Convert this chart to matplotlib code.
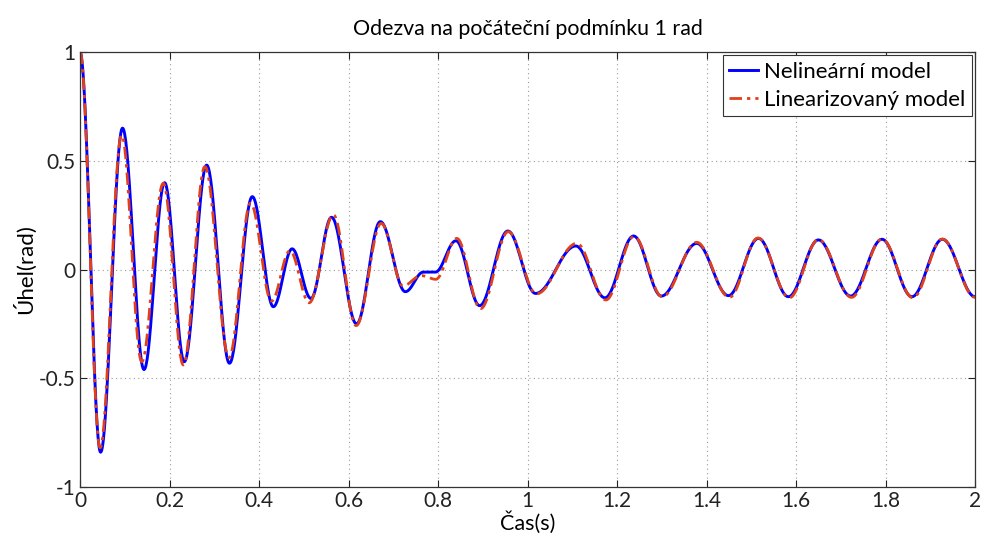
import numpy as np
import matplotlib
matplotlib.use("Agg")
import matplotlib.pyplot as plt

# Turning points of each response (time in s, angle in rad)
nonlinear_t = [0.000, 0.046, 0.095, 0.143, 0.189, 0.233, 0.283, 0.334, 0.385, 0.432,
               0.474, 0.516, 0.562, 0.618, 0.671, 0.727, 0.767, 0.794, 0.840, 0.893,
               0.956, 1.018, 1.108, 1.173, 1.237, 1.299, 1.378, 1.449, 1.516, 1.583,
               1.650, 1.722, 1.792, 1.859, 1.927, 2.000]
nonlinear_y = [1.000, -0.840, 0.650, -0.460, 0.399, -0.424, 0.480, -0.431, 0.335, -0.171,
               0.095, -0.133, 0.240, -0.250, 0.220, -0.102, -0.012, -0.012, 0.132, -0.166,
               0.177, -0.110, 0.108, -0.130, 0.154, -0.122, 0.120, -0.120, 0.143, -0.125,
               0.136, -0.122, 0.139, -0.125, 0.139, -0.125]

linear_t = [0.000, 0.045, 0.093, 0.138, 0.186, 0.231, 0.279, 0.333, 0.381, 0.428,
            0.469, 0.512, 0.566, 0.617, 0.673, 0.722, 0.762, 0.795, 0.842, 0.895,
            0.957, 1.020, 1.110, 1.175, 1.238, 1.301, 1.378, 1.451, 1.515, 1.585,
            1.650, 1.724, 1.792, 1.861, 1.927, 2.000]
linear_y = [1.000, -0.820, 0.618, -0.424, 0.396, -0.439, 0.473, -0.405, 0.305, -0.145,
            0.086, -0.153, 0.252, -0.258, 0.212, -0.075, -0.028, -0.045, 0.143, -0.180,
            0.174, -0.112, 0.120, -0.140, 0.152, -0.125, 0.125, -0.128, 0.145, -0.130,
            0.138, -0.128, 0.140, -0.130, 0.140, -0.128]

x_ticks = [0, 0.2, 0.4, 0.6, 0.8, 1.0, 1.2, 1.4, 1.6, 1.8, 2.0]
x_tick_labels = ["0", "0.2", "0.4", "0.6", "0.8", "1", "1.2", "1.4", "1.6", "1.8", "2"]
y_ticks = [-1, -0.5, 0, 0.5, 1]
y_tick_labels = ["-1", "-0.5", "0", "0.5", "1"]


def smooth_path(t_nodes, y_nodes, n=40):
    """Join turning points with half-cosine arcs (zero slope at each node)."""
    ts, ys = [], []
    for i in range(len(t_nodes) - 1):
        s = np.linspace(0.0, 1.0, n, endpoint=False)
        w = (1.0 - np.cos(np.pi * s)) / 2.0
        ts.append(t_nodes[i] + (t_nodes[i + 1] - t_nodes[i]) * s)
        ys.append(y_nodes[i] + (y_nodes[i + 1] - y_nodes[i]) * w)
    ts.append([t_nodes[-1]])
    ys.append([y_nodes[-1]])
    return np.concatenate(ts), np.concatenate(ys)


plt.rcParams["font.family"] = ["Lato", "DejaVu Sans"]
plt.rcParams["axes.unicode_minus"] = False

fig = plt.figure(figsize=(9.83, 5.35), dpi=100)
ax = fig.add_axes([0.0814, 0.0897, 0.9105, 0.8131])

t_nl, y_nl = smooth_path(nonlinear_t, nonlinear_y)
t_lin, y_lin = smooth_path(linear_t, linear_y)

ax.plot(t_nl, y_nl, color="#0000ff", linewidth=2.1, label="Nelineární model")
ax.plot(t_lin, y_lin, color="#e0401a", linewidth=2.0,
        dashes=(4.5, 1.8, 1.2, 1.8), label="Linearizovaný model")

ax.set_xlim(0, 2)
ax.set_ylim(-1, 1)
ax.set_xticks(x_ticks)
ax.set_xticklabels(x_tick_labels)
ax.set_yticks(y_ticks)
ax.set_yticklabels(y_tick_labels)
ax.tick_params(direction="in", top=True, right=True, labelsize=15, length=5,
               width=0.8, colors="#222222", pad=3)
ax.grid(True, color="#9a9a9a", linestyle=(0, (1, 3)), linewidth=0.8)
for spine in ax.spines.values():
    spine.set_color("#333333")
    spine.set_linewidth(0.9)

ax.set_title("Odezva na počáteční podmínku 1 rad", fontsize=15.4, pad=12)
ax.set_xlabel("Čas(s)", fontsize=15.5, labelpad=0)
ax.set_ylabel("Úhel(rad)", fontsize=16, labelpad=2)

leg = ax.legend(loc="upper right", fontsize=16, fancybox=False, framealpha=1,
                edgecolor="#333333", handlelength=1.3, handletextpad=0.25,
                borderaxespad=0.15, borderpad=0.3, labelspacing=0.35)
leg.get_frame().set_linewidth(0.8)

fig.savefig("out.png", dpi=100)
